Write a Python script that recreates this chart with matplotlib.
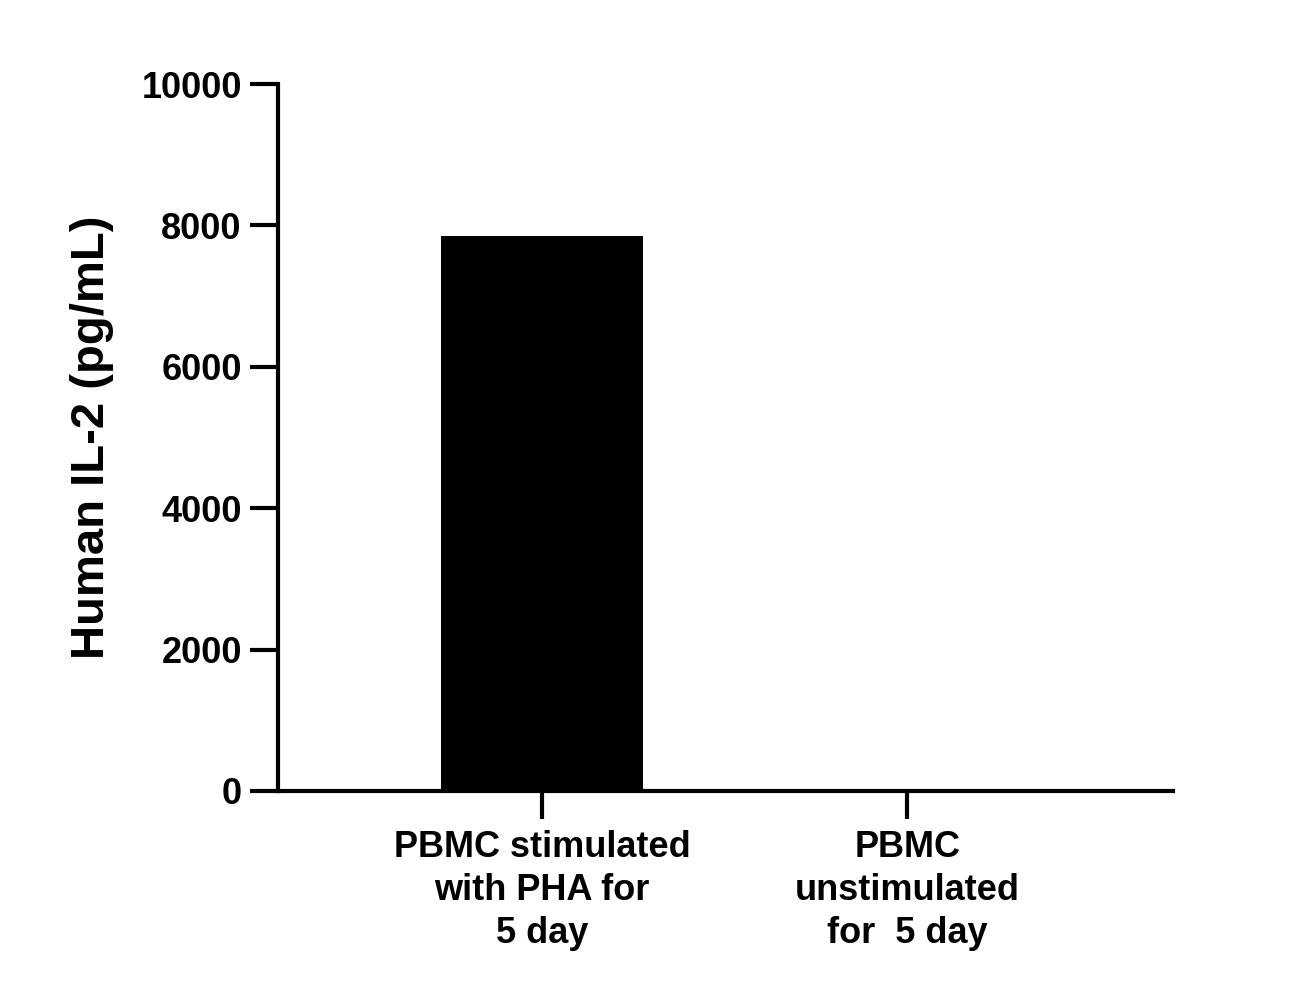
import matplotlib
matplotlib.use("Agg")
import matplotlib.pyplot as plt

categories = ["PBMC stimulated\nwith PHA for\n5 day", "PBMC\nunstimulated\nfor  5 day"]
values = [7850, 0]
yticks = [0, 2000, 4000, 6000, 8000, 10000]

plt.rcParams['font.family'] = ['Liberation Sans', 'DejaVu Sans']
plt.rcParams['font.weight'] = 'bold'

fig = plt.figure(figsize=(13.11, 10), dpi=100)
ax = fig.add_axes([0.212, 0.209, 0.683, 0.707])
ax.bar([0, 1], values, width=0.553, color='black')
ax.set_xlim(-0.723, 1.729)
ax.set_ylim(0, 10000)
ax.set_yticks(yticks)
ax.set_xticks([0, 1])
ax.set_xticklabels(categories, fontsize=26, fontweight='bold', linespacing=1.3)
ax.tick_params(axis='y', labelsize=26, width=3, length=20, pad=6)
ax.tick_params(axis='x', width=3, length=20, pad=8)
for lbl in ax.get_yticklabels():
    lbl.set_fontweight('bold')
ax.set_ylabel("Human IL-2 (pg/mL)", fontsize=34, fontweight='bold', labelpad=20)
ax.spines['top'].set_visible(False)
ax.spines['right'].set_visible(False)
ax.spines['left'].set_linewidth(3)
ax.spines['bottom'].set_linewidth(3)

fig.savefig("out.png", dpi=100)
